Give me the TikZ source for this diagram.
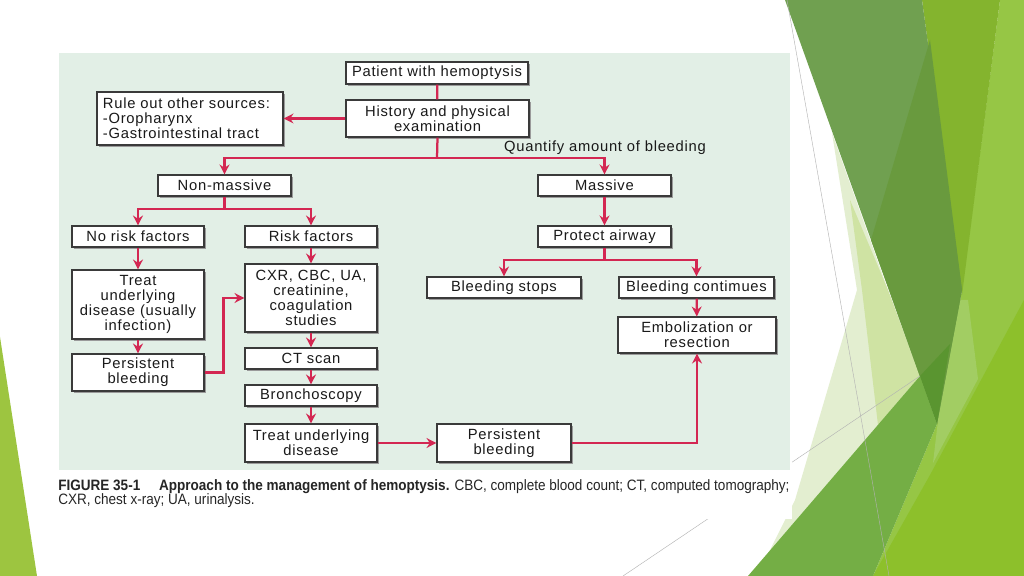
\documentclass[tikz,border=0pt]{standalone}
\usepackage{fontspec}
\setmainfont{Liberation Sans}[LetterSpace=5]
\newfontfamily\capfont{Liberation Sans}[FakeStretch=0.9]
\usetikzlibrary{arrows.meta,shadows}

\definecolor{panelgreen}{HTML}{E2EFE6}
\definecolor{flowred}{HTML}{D32752}
\definecolor{boxgray}{HTML}{3A3A3A}
\definecolor{shadowgray}{HTML}{9A9A9A}
\definecolor{facetdark}{HTML}{70A050}
\definecolor{facetdeep}{HTML}{699A3E}
\definecolor{facetmid}{HTML}{84B42E}
\definecolor{facetlime}{HTML}{96C645}
\definecolor{facetlimeb}{HTML}{8DC02B}
\definecolor{facetgrass}{HTML}{74AE45}
\definecolor{facetpale}{HTML}{E3EED0}
\definecolor{facetpaleb}{HTML}{CFE3A3}
\definecolor{facetlight}{HTML}{A2CD63}
\definecolor{facetnight}{HTML}{5A9530}
\definecolor{facetedge}{HTML}{9DC540}

\tikzset{
	box/.style={draw=boxgray, line width = 0.8pt, fill=white, align=center, inner sep=0pt,
		font=\fontsize{10.5}{10.7}\selectfont, text=black!90,
		drop shadow={shadow xshift=1.3pt, shadow yshift=-1.3pt, fill=shadowgray, opacity=1}},
	flow/.style={draw=flowred, line width = 1.6pt},
	flowarrow/.style={flow, -{Stealth[length=7pt,width=7pt]}},
	hairline/.style={draw=gray!60, line width = 0.3pt}
}

\begin{document}
\begin{tikzpicture}[x=0.025cm, y=-0.025cm]
						\useasboundingbox (0,0) rectangle (1024,576);
						\fill[white] (0,0) rectangle (1024,576);
						
						% slide decoration
						\fill[facetedge] (0,337) -- (37,576) -- (0,576) -- cycle;
						\fill[facetlime] (1000,0) -- (1024,0) -- (1024,576) -- (873,576) -- (937,424) -- (962,290) -- cycle;
						\fill[facetlimeb] (1024,300) -- (1024,576) -- (873,576) -- (930,475) -- cycle;
						\fill[facetlight] (952,300) -- (968,300) -- (978,379) -- (933,463) -- cycle;
						\fill[facetmid] (922,0) -- (1000,0) -- (962,295) -- cycle;
						\fill[facetpale] (832,133) -- (888,290) -- (920,376) -- (765,560) -- (795,500) -- (857,290) -- cycle;
						\fill[facetpaleb] (850,200) -- (888,290) -- (920,376) -- (878,425) -- (862,290) -- cycle;
						\fill[facetdark] (785,0) -- (922,0) -- (962,290) -- (937,424) -- cycle;
						\fill[facetdeep] (930,40) -- (962,290) -- (937,424) -- (871,240) -- cycle;
						\fill[facetgrass] (748,576) -- (920,376) -- (937,424) -- (873,576) -- cycle;
						\fill[facetnight] (920,376) -- (950,344) -- (937,424) -- cycle;
						\draw[hairline] (787,0) -- (889,576);
						\draw[hairline] (623,576) -- (920,376);
						
						% figure
						\fill[white] (55,45) rectangle (792,519);
						\fill[panelgreen] (59,53) rectangle (790,470);
						
						\node[box, minimum width=4.55cm, minimum height=0.55cm] (pat) at (437,73) {Patient with hemoptysis};
						\node[box, minimum width=4.575cm, minimum height=0.925cm] (hist) at (437.5,118.5) {History and physical\\examination};
						\node[box, align=left, text width=4.35cm, inner xsep=0.15cm, minimum height=1.325cm] (rule) at (190,118.5) {Rule out other sources:\\-Oropharynx\\-Gastrointestinal tract};
						
						\node[box, minimum width=3.325cm, minimum height=0.525cm] (nonm) at (224.5,185.5) {Non-massive};
						\node[box, minimum width=3.325cm, minimum height=0.525cm] (mass) at (604.5,185.5) {Massive};
						\node[font=\fontsize{10.5}{10.7}\selectfont, text=black!90] (quant) at (605,148) {Quantify amount of bleeding};
						
						\node[box, minimum width=3.3cm, minimum height=0.525cm] (norisk) at (138,236.5) {No risk factors};
						\node[box, minimum width=3.3cm, minimum height=0.525cm] (risk) at (311,236.5) {Risk factors};
						\node[box, minimum width=3.325cm, minimum height=0.525cm] (airway) at (604.5,236.5) {Protect airway};
						
						\node[box, minimum width=3.85cm, minimum height=0.525cm] (stops) at (504,287.5) {Bleeding stops};
						\node[box, minimum width=3.875cm, minimum height=0.525cm] (cont) at (696.5,287.5) {Bleeding contimues};
						\node[box, minimum width=3.95cm, minimum height=0.9cm] (emb) at (697,335) {Embolization or\\resection};
						
						\node[box, minimum width=3.3cm, minimum height=1.725cm] (treatA) at (138,304.5) {Treat\\underlying\\disease (usually\\infection)};
						\node[box, minimum width=3.3cm, minimum height=0.925cm] (persA) at (138,372.5) {Persistent\\bleeding};
						
						\node[box, minimum width=3.3cm, minimum height=1.7cm] (cxr) at (311,298) {CXR, CBC, UA,\\creatinine,\\coagulation\\studies};
						\node[box, minimum width=3.3cm, minimum height=0.525cm] (ct) at (311,358.5) {CT scan};
						\node[box, minimum width=3.3cm, minimum height=0.525cm] (bron) at (311,395.5) {Bronchoscopy};
						\node[box, minimum width=3.3cm, minimum height=0.95cm] (treatB) at (311,443) {Treat underlying\\disease};
						\node[box, minimum width=3.35cm, minimum height=0.95cm] (persB) at (504,443) {Persistent\\bleeding};
						
						\coordinate (splitA) at (437,158);
						\coordinate (splitB) at (224.5,209);
						\coordinate (splitC) at (604.5,260);
						
						\draw[flow] (pat) -- (hist);
						\draw[flowarrow] (hist.west) -- (rule.east);
						\draw[flow] (hist.south) -- (splitA);
						\draw[flowarrow] (splitA) -| (nonm.north);
						\draw[flowarrow] (splitA) -| (mass.north);
						
						\draw[flow] (nonm.south) -- (splitB);
						\draw[flowarrow] (splitB) -| (norisk.north);
						\draw[flowarrow] (splitB) -| (risk.north);
						
						\draw[flowarrow] (mass) -- (airway);
						\draw[flow] (airway.south) -- (splitC);
						\draw[flowarrow] (splitC) -| (stops.north);
						\draw[flowarrow] (splitC) -| (cont.north);
						\draw[flowarrow] (cont) -- (emb);
						
						\draw[flowarrow] (norisk) -- (treatA);
						\draw[flowarrow] (treatA) -- (persA);
						\draw[flowarrow] (persA.east) -- ++(19,0) |- (cxr.west);
						
						\draw[flowarrow] (risk) -- (cxr);
						\draw[flowarrow] (cxr) -- (ct);
						\draw[flowarrow] (ct) -- (bron);
						\draw[flowarrow] (bron) -- (treatB);
						\draw[flowarrow] (treatB) -- (persB);
						\draw[flowarrow] (persB.east) -| (emb.south);
						
						\node[anchor=north west, align=left, inner sep=0pt, text=black!85, font=\capfont\fontsize{10.7}{10.2}\selectfont] (caption) at (58,479)
							{\textbf{FIGURE 35-1}\quad\ \textbf{Approach to the management of hemoptysis.} CBC, complete blood count; CT, computed tomography;\\CXR, chest x-ray; UA, urinalysis.};
						
						%\node at (605,148) {};
						\end{tikzpicture}
\end{document}
